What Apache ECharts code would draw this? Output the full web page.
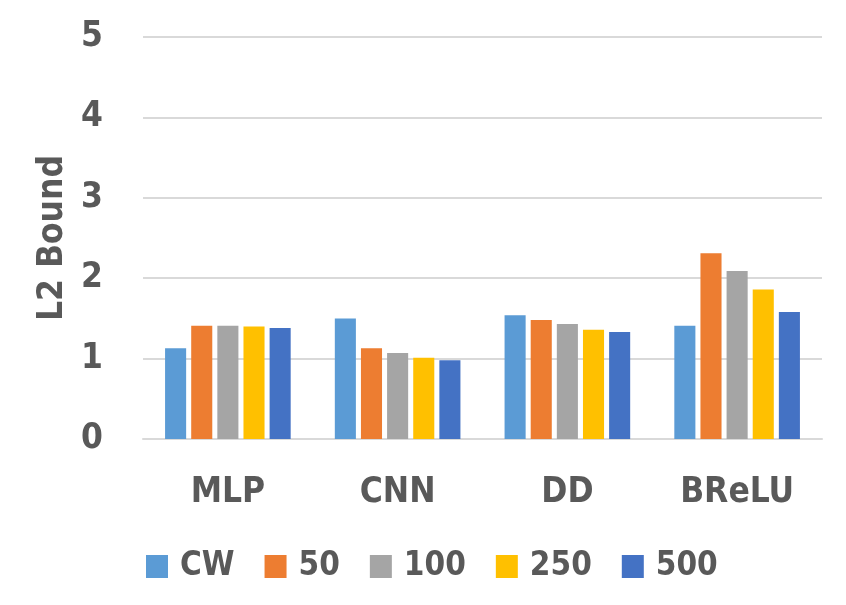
<!DOCTYPE html>
<html>
<head>
<meta charset="utf-8">
<script src="https://cdn.jsdelivr.net/npm/echarts@6/dist/echarts.min.js"></script>
<style>html,body{margin:0;padding:0;background:#fff;}#c{width:846px;height:605px;}</style>
</head>
<body>
<div id="c"></div>
<script>
var categories = ['MLP', 'CNN', 'DD', 'BReLU'];
var seriesNames = ['CW', '50', '100', '250', '500'];
var cwValues = [1.13, 1.50, 1.54, 1.41];
var v50Values = [1.41, 1.13, 1.48, 2.31];
var v100Values = [1.41, 1.07, 1.43, 2.09];
var v250Values = [1.40, 1.01, 1.36, 1.86];
var v500Values = [1.38, 0.98, 1.33, 1.58];
var colors = ['#5B9BD5', '#ED7D31', '#A5A5A5', '#FFC000', '#4472C4'];
var allValues = [cwValues, v50Values, v100Values, v250Values, v500Values];

var FONT = '"DejaVu Sans Condensed", Lato, sans-serif';
var TXT = '#595959';
var chart = echarts.init(document.getElementById('c'));
chart.setOption({
  animation: false,
  color: colors,
  grid: { left: 143, right: 24, top: 37, bottom: 166 },
  legend: {
    data: seriesNames,
    left: 141, top: 545,
    itemWidth: 22, itemHeight: 23, itemGap: 30,
    icon: 'rect',
    textStyle: { fontFamily: FONT, fontWeight: 'bold', fontSize: 33, color: TXT, padding: [0, 0, 0, 7] }
  },
  xAxis: {
    type: 'category',
    data: categories,
    axisLine: { lineStyle: { color: '#D9D9D9', width: 2 } },
    axisTick: { show: false },
    axisLabel: { fontFamily: FONT, fontWeight: 'bold', fontSize: 35, color: TXT, margin: 36 }
  },
  yAxis: {
    type: 'value',
    min: 0, max: 5, interval: 1,
    name: 'L2 Bound',
    nameLocation: 'middle',
    nameGap: 70,
    nameTextStyle: { fontFamily: FONT, fontWeight: 'bold', fontSize: 35, color: TXT },
    axisLine: { show: false },
    axisTick: { show: false },
    splitLine: { lineStyle: { color: '#D9D9D9', width: 2 } },
    axisLabel: { fontFamily: FONT, fontWeight: 'bold', fontSize: 35, color: TXT, margin: 40 }
  },
  series: seriesNames.map(function (n, i) {
    return {
      name: n, type: 'bar', data: allValues[i],
      barGap: '24%', barCategoryGap: '26%'
    };
  })
});
</script>
</body>
</html>
